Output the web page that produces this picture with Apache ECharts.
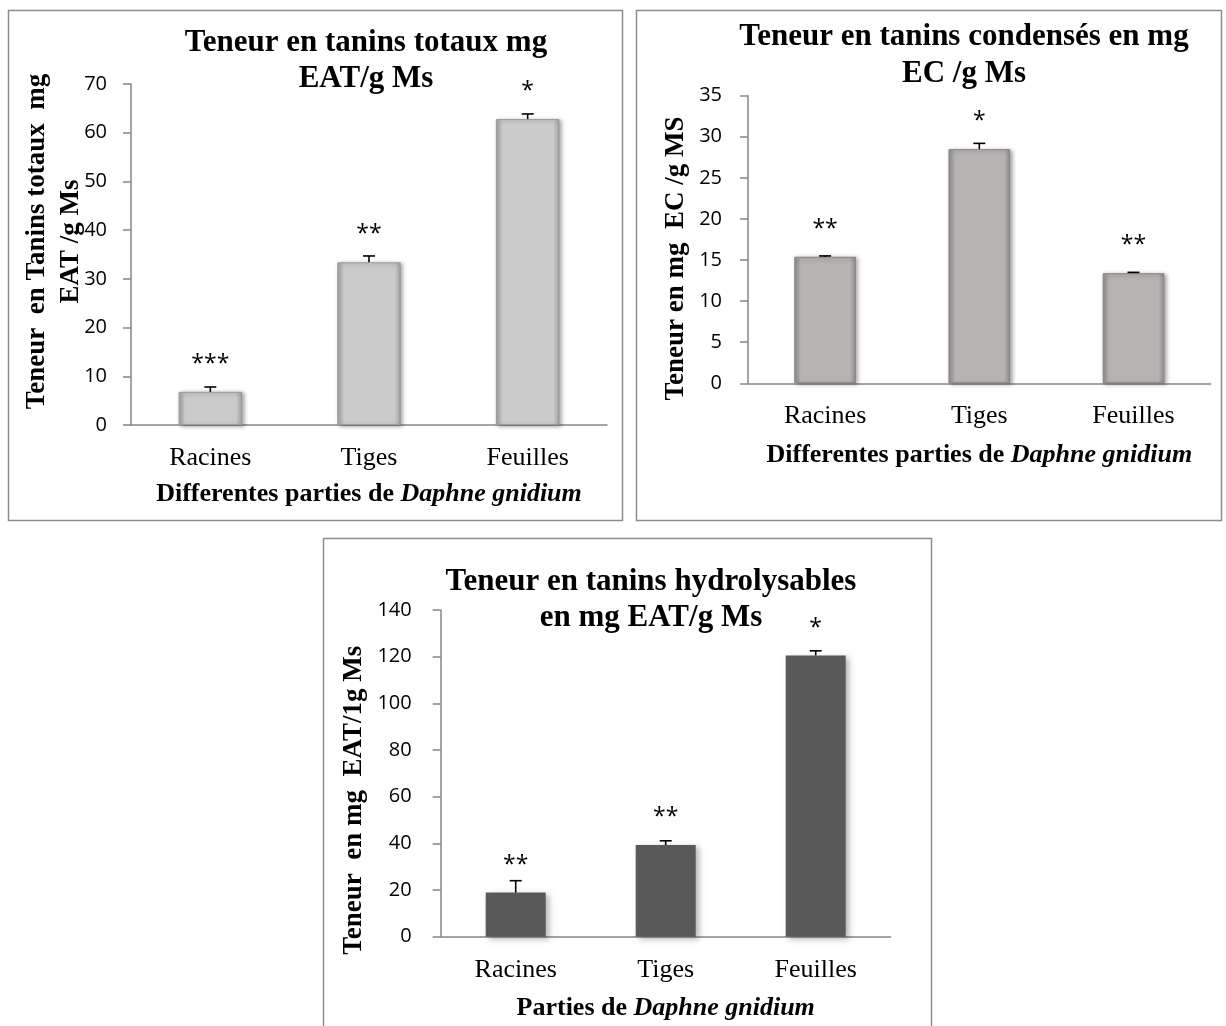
<!DOCTYPE html>
<html>
<head>
<meta charset="utf-8">
<script src="https://cdn.jsdelivr.net/npm/echarts@6/dist/echarts.min.js"></script>
<style>
  html, body { margin: 0; padding: 0; background: #ffffff; }
  #chart { width: 1226px; height: 1026px; }
</style>
</head>
<body>
<div id="chart"></div>
<script>
// ---------- Data ----------
const categories = ['Racines', 'Tiges', 'Feuilles'];

const totauxValues = [6.8, 33.4, 62.8];
const totauxErrors = [1.0, 1.3, 1.05];
const totauxStars = ['***', '**', '*'];

const condensesValues = [15.4, 28.5, 13.4];
const condensesErrors = [0.1, 0.7, 0.1];
const condensesStars = ['**', '*', '**'];

const hydroValues = [18.9, 39.3, 120.5];
const hydroErrors = [5.1, 1.8, 2.0];
const hydroStars = ['**', '**', '*'];

// ---------- Styles ----------
const SERIF = "'Liberation Serif', 'Times New Roman', serif";
const SANS = "'Open Sans', 'Liberation Sans', sans-serif";
const AXIS_GREY = '#868686';

function bevelGradient(edge, mid) {
  return new echarts.graphic.LinearGradient(0, 0, 1, 0, [
    { offset: 0, color: edge },
    { offset: 0.1, color: mid },
    { offset: 0.9, color: mid },
    { offset: 1, color: edge }
  ]);
}

function errorSeries(idx, values, errors) {
  return {
    type: 'custom',
    xAxisIndex: idx, yAxisIndex: idx,
    silent: true,
    z: 5,
    data: values.map((v, i) => [i, v, errors[i]]),
    renderItem: function (params, api) {
      const base = api.coord([api.value(0), api.value(1)]);
      const top = api.coord([api.value(0), api.value(1) + api.value(2)]);
      const st = { stroke: '#000', lineWidth: 1.6 };
      return {
        type: 'group',
        children: [
          { type: 'line', shape: { x1: base[0], y1: base[1], x2: base[0], y2: top[1] }, style: st },
          { type: 'line', shape: { x1: base[0] - 6, y1: top[1], x2: base[0] + 6, y2: top[1] }, style: st }
        ]
      };
    }
  };
}

function barSeries(idx, values, stars, itemStyle) {
  return {
    type: 'bar',
    xAxisIndex: idx, yAxisIndex: idx,
    barWidth: '40%',
    data: values,
    itemStyle: itemStyle,
    label: {
      show: true,
      position: 'top',
      distance: 16,
      formatter: p => stars[p.dataIndex],
      fontFamily: SANS,
      fontSize: 23,
      color: '#000'
    }
  };
}

function xAxis(idx, name, nameGap) {
  return {
    type: 'category',
    gridIndex: idx,
    data: categories,
    axisLine: { lineStyle: { color: AXIS_GREY, width: 1.5 } },
    axisTick: { show: false },
    axisLabel: { fontFamily: SERIF, fontSize: 26, color: '#000', margin: 20 },
    name: name,
    nameLocation: 'middle',
    nameGap: nameGap,
    nameTextStyle: {
      fontFamily: SERIF, fontWeight: 'bold', fontSize: 26, color: '#000',
      rich: { i: { fontFamily: SERIF, fontWeight: 'bold', fontStyle: 'italic', fontSize: 26, color: '#000' } }
    }
  };
}

function yAxis(idx, max, interval, labelMargin, name, nameGap, namePadding, lineHeight) {
  return {
    type: 'value',
    gridIndex: idx,
    min: 0, max: max, interval: interval,
    splitLine: { show: false },
    axisLine: { show: true, lineStyle: { color: AXIS_GREY, width: 1.5 } },
    axisTick: { show: true, length: 8, lineStyle: { color: AXIS_GREY, width: 1.5 } },
    axisLabel: { fontFamily: SANS, fontSize: 20, color: '#000', margin: labelMargin },
    name: name,
    nameLocation: 'middle',
    nameRotate: 90,
    nameGap: nameGap,
    nameMoveOverlap: false,
    nameTextStyle: {
      fontFamily: SERIF, fontWeight: 'bold', fontSize: 27, color: '#000',
      lineHeight: lineHeight, padding: namePadding
    }
  };
}

const titleStyle = { fontFamily: SERIF, fontWeight: 'bold', fontSize: 31, color: '#000', lineHeight: 36 };

const option = {
  backgroundColor: '#ffffff',
  animation: false,
  title: [
    { text: 'Teneur en tanins totaux mg\nEAT/g Ms', left: 366, top: 25, textAlign: 'center', padding: 0, textStyle: titleStyle },
    { text: 'Teneur en tanins condensés en mg\nEC /g Ms', left: 964, top: 18, textAlign: 'center', padding: 0, textStyle: Object.assign({}, titleStyle, { lineHeight: 37 }) },
    { text: 'Teneur en tanins hydrolysables\nen mg EAT/g Ms', left: 651, top: 564, textAlign: 'center', padding: 0, textStyle: titleStyle }
  ],
  graphic: [
    { type: 'rect', shape: { x: 8.5, y: 10.5, width: 614, height: 510 }, style: { fill: 'none', stroke: '#8c8c8c', lineWidth: 1.5 }, z: -1 },
    { type: 'rect', shape: { x: 636.5, y: 10.5, width: 585, height: 510 }, style: { fill: 'none', stroke: '#8c8c8c', lineWidth: 1.5 }, z: -1 },
    { type: 'rect', shape: { x: 323.5, y: 538.5, width: 608, height: 500 }, style: { fill: 'none', stroke: '#8c8c8c', lineWidth: 1.5 }, z: -1 }
  ],
  grid: [
    { left: 131, top: 84, width: 476, height: 341 },
    { left: 748, top: 95.7, width: 462.6, height: 287.6 },
    { left: 440.7, top: 610, width: 450, height: 326.7 }
  ],
  xAxis: [
    xAxis(0, 'Differentes parties de {i|Daphne gnidium}', 56),
    xAxis(1, 'Differentes parties de {i|Daphne gnidium}', 59),
    xAxis(2, 'Parties de {i|Daphne gnidium}', 59)
  ],
  yAxis: [
    yAxis(0, 70, 10, 24, 'Teneur  en Tanins totaux  mg\nEAT /g Ms', 43, [0, 0, 0, 26], 34),
    yAxis(1, 35, 5, 26, 'Teneur en mg  EC /g MS', 57, [0, 38, 0, 0], 30),
    yAxis(2, 140, 20, 29, 'Teneur  en mg  EAT/1g Ms', 72, [0, 54, 0, 0], 30)
  ],
  series: [
    barSeries(0, totauxValues, totauxStars, {
      color: bevelGradient('#a4a4a4', '#cbcbcb'),
      borderColor: '#9a9a9a', borderWidth: 1,
      shadowColor: 'rgba(0,0,0,0.35)', shadowBlur: 4, shadowOffsetX: 2, shadowOffsetY: 1
    }),
    errorSeries(0, totauxValues, totauxErrors),
    barSeries(1, condensesValues, condensesStars, {
      color: bevelGradient('#928e8d', '#b7b3b2'),
      borderColor: '#8a8685', borderWidth: 1,
      shadowColor: 'rgba(0,0,0,0.35)', shadowBlur: 4, shadowOffsetX: 2, shadowOffsetY: 1
    }),
    errorSeries(1, condensesValues, condensesErrors),
    barSeries(2, hydroValues, hydroStars, {
      color: '#595959',
      shadowColor: 'rgba(0,0,0,0.3)', shadowBlur: 6, shadowOffsetX: 3, shadowOffsetY: 2
    }),
    errorSeries(2, hydroValues, hydroErrors)
  ]
};

const chart = echarts.init(document.getElementById('chart'), null, { renderer: 'canvas' });
chart.setOption(option);
</script>
</body>
</html>
